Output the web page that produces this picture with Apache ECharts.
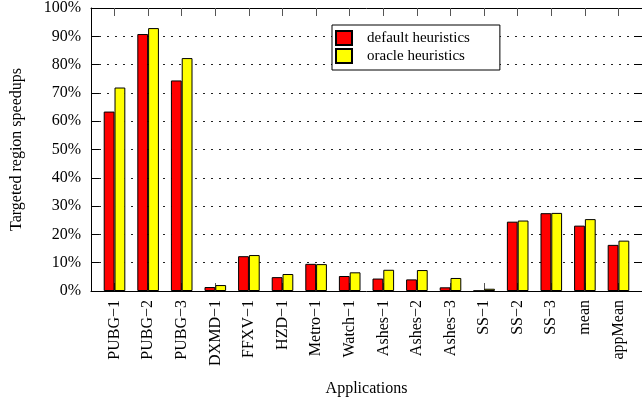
<!DOCTYPE html>
<html>
<head>
<meta charset="utf-8">
<script src="https://cdn.jsdelivr.net/npm/echarts@6/dist/echarts.min.js"></script>
<style>
html,body{margin:0;padding:0;background:#fff;}
#chart{width:642px;height:402px;}
</style>
</head>
<body>
<div id="chart"></div>
<script>
var categories = ['PUBG−1','PUBG−2','PUBG−3','DXMD−1','FFXV−1','HZD−1','Metro−1','Watch−1','Ashes−1','Ashes−2','Ashes−3','SS−1','SS−2','SS−3','mean','appMean'];
var defaultHeuristics = [63.4, 90.8, 74.4, 1.4, 12.3, 4.9, 9.6, 5.3, 4.4, 4.1, 1.3, 0.1, 24.5, 27.5, 23.1, 16.3];
var oracleHeuristics = [71.9, 92.9, 82.3, 2.1, 12.7, 6.0, 9.5, 6.6, 7.5, 7.4, 4.6, 0.8, 24.9, 27.6, 25.4, 17.8];
var yTicks = [0,10,20,30,40,50,60,70,80,90,100];

var FONT = "'Liberation Serif', 'Times New Roman', serif";
var idx = categories.map(function(_, i){ return i; });
function pairs(arr){ return arr.map(function(v, i){ return [i, v]; }); }

var chart = echarts.init(document.getElementById('chart'), null, {renderer:'canvas'});
chart.setOption({
  animation: false,
  backgroundColor: '#fff',
  textStyle: {fontFamily: FONT, color: '#000'},
  grid: {left: 91, top: 6, width: 552.5, height: 285, containLabel: false},
  legend: {
    orient: 'vertical',
    left: 332, top: 25,
    data: ['default heuristics', 'oracle heuristics'],
    itemWidth: 16, itemHeight: 14, itemGap: 2,
    padding: [5, 30, 6, 3],
    borderColor: '#000', borderWidth: 1,
    backgroundColor: '#fff',
    textStyle: {fontFamily: FONT, fontSize: 15, color: '#000', padding: [0,0,0,10]},
    icon: 'rect'
  },
  xAxis: [{
    type: 'value', min: -0.7, max: 15.7, position: 'bottom',
    name: 'Applications', nameLocation: 'middle', nameGap: 90,
    nameTextStyle: {fontFamily: FONT, fontSize: 16, color: '#000'},
    axisLine: {show: true, onZero: false, lineStyle: {color: '#000', width: 1}},
    axisTick: {show: true, inside: true, length: 8, customValues: idx, lineStyle: {color: '#555'}},
    axisLabel: {show: true, rotate: 90, margin: 9, fontFamily: FONT, fontSize: 16, color: '#000',
      customValues: idx,
      formatter: function(v){ return categories[Math.round(v)]; }},
    splitLine: {show: false}
  }, {
    type: 'value', min: -0.7, max: 15.7, position: 'top',
    axisLine: {show: true, onZero: false, lineStyle: {color: '#000', width: 1}},
    axisTick: {show: true, inside: true, length: 8, customValues: idx, lineStyle: {color: '#555'}},
    axisLabel: {show: false},
    splitLine: {show: false}
  }],
  yAxis: [{
    type: 'value', min: 0, max: 100, interval: 10, position: 'left',
    name: 'Targeted region speedups', nameLocation: 'middle', nameGap: 66, nameRotate: 90,
    nameTextStyle: {fontFamily: FONT, fontSize: 16, color: '#000'},
    axisLine: {show: true, onZero: false, lineStyle: {color: '#000', width: 1}},
    axisTick: {show: true, inside: true, length: 8, lineStyle: {color: '#000'}},
    axisLabel: {margin: 10, fontFamily: FONT, fontSize: 16, color: '#000', formatter: '{value}%'},
    splitLine: {show: true, lineStyle: {color: '#222', width: 1, type: [2, 6]}}
  }, {
    type: 'value', min: 0, max: 100, interval: 10, position: 'right',
    axisLine: {show: true, onZero: false, lineStyle: {color: '#000', width: 1}},
    axisTick: {show: true, inside: true, length: 8, lineStyle: {color: '#000'}},
    axisLabel: {show: false},
    splitLine: {show: false}
  }],
  series: [{
    name: 'default heuristics', type: 'bar', xAxisIndex: 0, yAxisIndex: 0,
    data: pairs(defaultHeuristics), barWidth: 10.8, barGap: '0%',
    itemStyle: {color: '#ff0000', borderColor: '#000', borderWidth: 1}
  }, {
    name: 'oracle heuristics', type: 'bar', xAxisIndex: 0, yAxisIndex: 0,
    data: pairs(oracleHeuristics), barWidth: 10.8, barGap: '0%',
    itemStyle: {color: '#ffff00', borderColor: '#000', borderWidth: 1}
  }]
});
</script>
</body>
</html>
